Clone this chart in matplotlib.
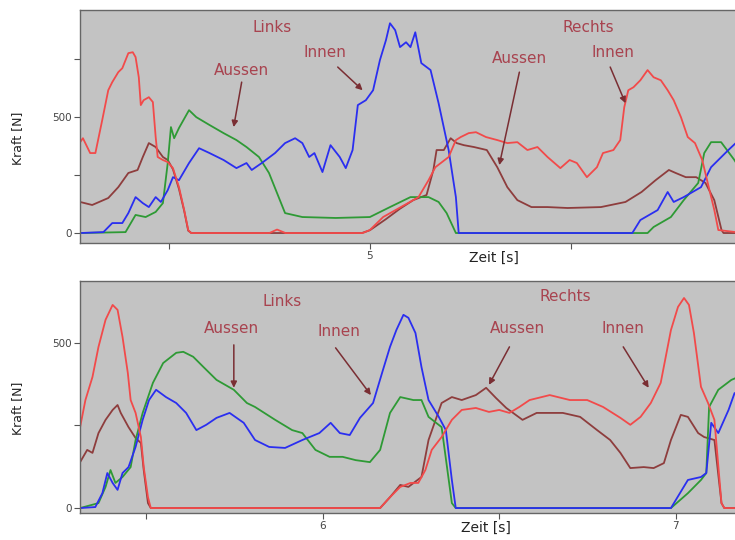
import matplotlib
matplotlib.use('Agg')
import matplotlib.pyplot as plt

# ---- oberes Diagramm (Zeit in s, Kraft in N) ----
t_rot_1 = [4.279, 4.286, 4.304, 4.317, 4.334, 4.349, 4.359, 4.374, 4.384, 4.399, 4.410, 4.417,
           4.425, 4.430, 4.437, 4.450, 4.460, 4.467, 4.472, 4.485, 4.497, 4.510, 4.525, 4.538,
           4.548, 4.555, 4.750, 4.769, 4.790, 4.982, 5.000, 5.033, 5.075, 5.108, 5.121, 5.146,
           5.163, 5.196, 5.214, 5.226, 5.246, 5.264, 5.289, 5.317, 5.342, 5.367, 5.392, 5.417,
           5.442, 5.474, 5.497, 5.515, 5.540, 5.565, 5.580, 5.606, 5.623, 5.633, 5.643, 5.656,
           5.673, 5.691, 5.706, 5.724, 5.741, 5.756, 5.774, 5.791, 5.809, 5.827, 5.845, 5.857,
           5.867, 5.930]
f_rot_1 = [392, 409, 345, 345, 487, 616, 651, 694, 711, 776, 780, 759,
           672, 552, 573, 586, 565, 414, 328, 315, 306, 280, 198, 99,
           13, 0, 0, 15, 0, 0, 13, 69, 110, 142, 155, 228,
           284, 328, 401, 414, 431, 435, 414, 401, 388, 392, 358, 371,
           328, 280, 315, 302, 241, 284, 345, 358, 401, 543, 616, 629,
           659, 703, 672, 659, 616, 573, 500, 414, 388, 315, 185, 100,
           13, 0]

t_braun_1 = [4.279, 4.309, 4.349, 4.374, 4.399, 4.422, 4.435, 4.450, 4.467, 4.485, 4.497, 4.510,
             4.525, 4.538, 4.548, 4.556, 4.980, 5.000, 5.040, 5.075, 5.108, 5.141, 5.158, 5.166,
             5.184, 5.201, 5.216, 5.234, 5.259, 5.291, 5.317, 5.342, 5.367, 5.402, 5.442, 5.492,
             5.575, 5.636, 5.676, 5.711, 5.744, 5.761, 5.786, 5.812, 5.835, 5.857, 5.875, 5.880,
             5.930]
f_braun_1 = [134, 121, 151, 198, 259, 272, 328, 388, 371, 328, 315, 275,
             190, 95, 10, 0, 0, 12, 60, 105, 142, 164, 272, 358,
             358, 409, 388, 379, 371, 358, 284, 198, 142, 112, 112, 108,
             112, 134, 177, 228, 272, 259, 241, 241, 216, 142, 13, 0,
             0]

t_blau_1 = [4.279, 4.337, 4.359, 4.384, 4.399, 4.417, 4.435, 4.450, 4.467, 4.480, 4.497, 4.510,
            4.525, 4.550, 4.575, 4.601, 4.636, 4.668, 4.693, 4.706, 4.731, 4.764, 4.789, 4.814,
            4.832, 4.849, 4.862, 4.882, 4.902, 4.925, 4.940, 4.957, 4.970, 4.990, 5.008, 5.025,
            5.040, 5.050, 5.063, 5.075, 5.090, 5.101, 5.113, 5.128, 5.151, 5.171, 5.196, 5.214,
            5.221, 5.653, 5.673, 5.716, 5.741, 5.756, 5.781, 5.824, 5.849, 5.892, 5.930]
f_blau_1 = [0, 4, 43, 43, 86, 155, 129, 112, 155, 134, 185, 241,
            228, 302, 366, 345, 315, 280, 302, 272, 302, 345, 388, 409,
            388, 328, 345, 263, 379, 328, 280, 358, 552, 573, 616, 746,
            832, 905, 875, 802, 823, 802, 866, 733, 703, 560, 358, 155,
            0, 0, 56, 99, 177, 134, 155, 198, 284, 358, 420]

t_gruen_1 = [4.279, 4.392, 4.417, 4.442, 4.467, 4.485, 4.497, 4.505, 4.513, 4.525, 4.550, 4.568,
             4.601, 4.636, 4.668, 4.693, 4.724, 4.749, 4.789, 4.832, 4.915, 5.000, 5.050, 5.101,
             5.146, 5.171, 5.191, 5.214, 5.691, 5.706, 5.749, 5.781, 5.817, 5.832, 5.849, 5.874,
             5.907, 5.930]
f_gruen_1 = [0, 4, 78, 69, 91, 129, 302, 457, 409, 453, 530, 500,
             466, 431, 401, 371, 328, 259, 86, 69, 65, 69, 112, 155,
             155, 134, 86, 0, 0, 26, 69, 142, 216, 345, 392, 392,
             315, 250]

# ---- unteres Diagramm ----
t_rot_2 = [5.314, 5.329, 5.349, 5.366, 5.386, 5.406, 5.420, 5.434, 5.449, 5.457, 5.471, 5.486,
           5.494, 5.506, 5.514, 6.163, 6.191, 6.220, 6.249, 6.271, 6.291, 6.309, 6.337, 6.366,
           6.394, 6.434, 6.471, 6.500, 6.529, 6.557, 6.586, 6.643, 6.700, 6.749, 6.794, 6.843,
           6.871, 6.900, 6.929, 6.957, 6.986, 7.006, 7.023, 7.037, 7.051, 7.071, 7.091, 7.109,
           7.129, 7.137, 7.190]
f_rot_2 = [245, 327, 397, 488, 570, 615, 600, 518, 409, 327, 288, 215,
           124, 33, 0, 0, 33, 64, 76, 76, 115, 176, 215, 267,
           297, 303, 291, 297, 288, 306, 327, 342, 327, 327, 306, 273,
           252, 276, 318, 379, 539, 609, 636, 615, 530, 367, 318, 267,
           15, 0, 0]

t_braun_2 = [5.314, 5.334, 5.349, 5.366, 5.386, 5.406, 5.420, 5.429, 5.451, 5.471, 5.486, 5.494,
             5.506, 5.514, 6.163, 6.191, 6.220, 6.243, 6.280, 6.300, 6.320, 6.337, 6.366, 6.394,
             6.434, 6.463, 6.491, 6.520, 6.566, 6.606, 6.643, 6.680, 6.729, 6.777, 6.814, 6.843,
             6.871, 6.909, 6.937, 6.966, 6.986, 7.014, 7.034, 7.063, 7.080, 7.109, 7.129, 7.137,
             7.190]
f_braun_2 = [139, 176, 167, 227, 267, 297, 312, 288, 245, 212, 197, 115,
             15, 0, 0, 33, 70, 64, 94, 206, 267, 318, 336, 327,
             342, 364, 333, 303, 267, 288, 288, 288, 276, 236, 206, 167,
             121, 124, 121, 136, 206, 282, 276, 227, 215, 206, 15, 0,
             0]

t_blau_2 = [5.314, 5.357, 5.377, 5.391, 5.406, 5.420, 5.434, 5.451, 5.471, 5.491, 5.509, 5.529,
            5.557, 5.586, 5.614, 5.643, 5.671, 5.700, 5.737, 5.777, 5.809, 5.849, 5.894, 5.943,
            5.991, 6.023, 6.049, 6.077, 6.106, 6.143, 6.171, 6.191, 6.209, 6.229, 6.243, 6.263,
            6.280, 6.300, 6.329, 6.349, 6.366, 6.377, 6.986, 7.034, 7.071, 7.086, 7.100, 7.120,
            7.149, 7.166, 7.190]
f_blau_2 = [0, 3, 45, 106, 76, 55, 106, 124, 185, 267, 327, 358,
            336, 318, 288, 236, 252, 273, 288, 258, 206, 185, 182, 206,
            227, 258, 227, 221, 273, 318, 418, 488, 539, 585, 576, 530,
            427, 327, 276, 236, 85, 0, 0, 85, 94, 106, 258, 227,
            297, 348, 348]

t_gruen_2 = [5.314, 5.366, 5.386, 5.400, 5.414, 5.434, 5.457, 5.471, 5.491, 5.520, 5.549, 5.586,
             5.606, 5.634, 5.663, 5.700, 5.749, 5.786, 5.809, 5.866, 5.914, 5.943, 5.980, 6.020,
             6.057, 6.094, 6.134, 6.163, 6.191, 6.220, 6.257, 6.280, 6.300, 6.337, 6.366, 6.377,
             6.986, 7.034, 7.071, 7.086, 7.094, 7.120, 7.157, 7.190]
f_gruen_2 = [0, 15, 64, 115, 76, 94, 124, 206, 288, 379, 439, 470,
             473, 458, 427, 388, 358, 318, 306, 267, 236, 227, 176, 155,
             155, 145, 139, 176, 288, 336, 327, 327, 276, 245, 15, 0,
             0, 45, 85, 106, 306, 358, 388, 403]

bg = '#c3c3c3'
txt_col = '#a8434f'
pfeil_col = '#7a2e33'
c_rot, c_braun, c_blau, c_gruen = '#f24a4a', '#8e3d3d', '#2a2ef0', '#2e9a35'

fig = plt.figure(figsize=(7.35, 5.4), dpi=100)
ax1 = fig.add_axes([0.109, 0.550, 0.90, 0.431])
ax2 = fig.add_axes([0.109, 0.050, 0.90, 0.430])


def style(ax, xlim, ylim, xmaj, xmin, ymaj, ymin):
    ax.set_facecolor(bg)
    ax.set_xlim(*xlim)
    ax.set_ylim(*ylim)
    ax.set_xticks(xmaj)
    ax.set_xticks(xmin, minor=True)
    ax.set_yticks(ymaj)
    ax.set_yticks(ymin, minor=True)
    ax.tick_params(which='both', direction='out', colors='#555555', labelsize=7.5,
                   labelcolor='#444444', width=0.8, pad=2)
    ax.tick_params(which='major', length=4)
    ax.tick_params(which='minor', length=4)
    for s in ax.spines.values():
        s.set_color('#666666')
        s.set_linewidth(1.0)
    ax.spines['right'].set_visible(False)
    ax.set_ylabel('Kraft [N]', fontsize=9, color='#222222')
    ax.set_xlabel('Zeit [s]', fontsize=10, color='#222222')


style(ax1, (4.279, 5.925), (-43, 961), [5], [4.5, 5.5], [0, 500], [250, 750])
style(ax2, (5.314, 7.186), (-15, 688), [6, 7], [5.5, 6.5], [0, 500], [250])
ax1.yaxis.set_label_coords(-0.085, 0.45)
ax2.yaxis.set_label_coords(-0.085, 0.45)
ax1.xaxis.set_label_coords(0.626, -0.035)
ax2.xaxis.set_label_coords(0.614, -0.035)

for ax, series in [
    (ax1, [(t_braun_1, f_braun_1, c_braun), (t_gruen_1, f_gruen_1, c_gruen),
           (t_blau_1, f_blau_1, c_blau), (t_rot_1, f_rot_1, c_rot)]),
    (ax2, [(t_braun_2, f_braun_2, c_braun), (t_gruen_2, f_gruen_2, c_gruen),
           (t_blau_2, f_blau_2, c_blau), (t_rot_2, f_rot_2, c_rot)]),
]:
    for t, f, c in series:
        ax.plot(t, f, color=c, lw=1.3)


def label(ax, text, pos):
    ax.text(pos[0], pos[1], text, color=txt_col, fontsize=11, ha='center', va='center',
            fontweight='medium')


def pfeil(ax, tail, head):
    ax.annotate('', xy=head, xytext=tail,
                arrowprops=dict(arrowstyle='-|>', color=pfeil_col, lw=1.1,
                                mutation_scale=9, shrinkA=0, shrinkB=0))


label(ax1, 'Links', (4.756, 888))
label(ax1, 'Aussen', (4.681, 703))
label(ax1, 'Innen', (4.887, 780))
label(ax1, 'Rechts', (5.543, 888))
label(ax1, 'Aussen', (5.372, 754))
label(ax1, 'Innen', (5.606, 780))
pfeil(ax1, (4.681, 651), (4.661, 457))
pfeil(ax1, (4.920, 716), (4.982, 616))
pfeil(ax1, (5.372, 694), (5.322, 293))
pfeil(ax1, (5.598, 716), (5.636, 560))

label(ax2, 'Links', (5.886, 624))
label(ax2, 'Aussen', (5.743, 545))
label(ax2, 'Innen', (6.046, 536))
label(ax2, 'Rechts', (6.686, 639))
label(ax2, 'Aussen', (6.551, 545))
label(ax2, 'Innen', (6.849, 545))
pfeil(ax2, (5.749, 494), (5.749, 364))
pfeil(ax2, (6.037, 485), (6.137, 342))
pfeil(ax2, (6.529, 488), (6.471, 373))
pfeil(ax2, (6.851, 488), (6.923, 364))

fig.savefig('out.png', dpi=100)
